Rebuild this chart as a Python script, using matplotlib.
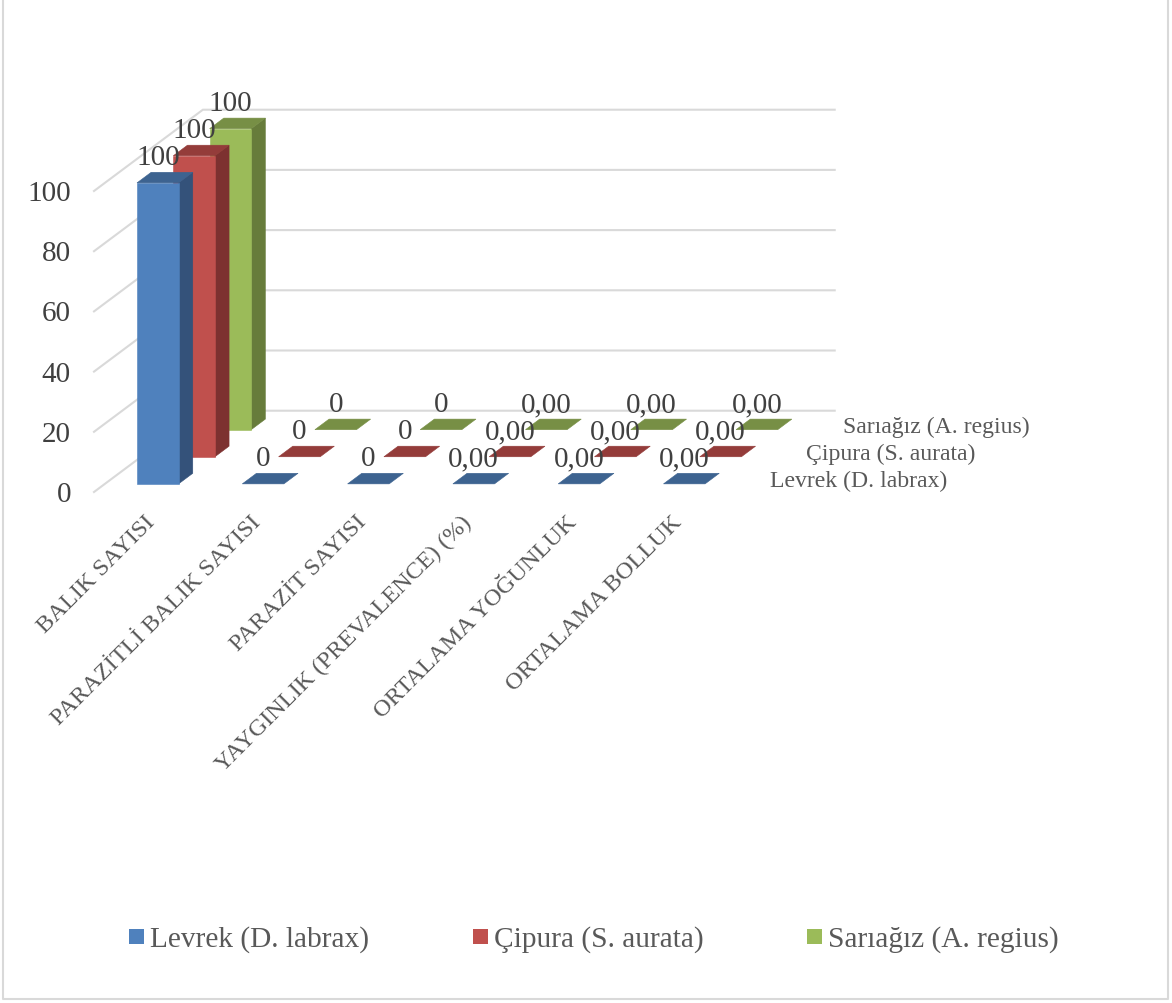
import matplotlib
matplotlib.use("Agg")
import matplotlib.pyplot as plt
from matplotlib.patches import Polygon, Rectangle

plt.rcParams["font.family"] = ["Liberation Serif", "DejaVu Serif"]

categories = [
    "BALIK SAYISI",
    "PARAZİTLİ BALIK SAYISI",
    "PARAZİT SAYISI",
    "YAYGINLIK (PREVALENCE) (%)",
    "ORTALAMA YOĞUNLUK",
    "ORTALAMA BOLLUK",
]
series_names = ["Levrek (D. labrax)", "Çipura (S. aurata)", "Sarıağız (A. regius)"]
levrek = [100, 0, 0, 0.00, 0.00, 0.00]
cipura = [100, 0, 0, 0.00, 0.00, 0.00]
sariagiz = [100, 0, 0, 0.00, 0.00, 0.00]
value_labels = ["100", "0", "0", "0,00", "0,00", "0,00"]
y_ticks = [0, 20, 40, 60, 80, 100]

front_colors = ["#4F81BD", "#C0504D", "#9BBB59"]
side_colors = ["#34527A", "#7D3130", "#677C3B"]
top_colors = ["#3D6390", "#943C3A", "#778F45"]
GRID = "#D9D9D9"
TEXT_DARK = "#404040"
TEXT_LEGEND = "#595959"

# oblique projection of the Excel 3D chart, result is in image pixels
X0, Y0 = 94.0, 493.0
CAT_W = 105.3
DEPTH_X, DEPTH_Y = 36.3, 27.1
UNIT_Y = 3.01
BAR_IN = 0.305   # bar start inside a category slot
BAR_W = 0.395    # bar width, fraction of a slot
BAR_D0 = 0.3     # bar start inside a depth slot
BAR_D = 0.39     # bar depth, fraction of a slot


def project(cat, val, depth):
    return (X0 + cat * CAT_W + depth * DEPTH_X, Y0 - val * UNIT_Y - depth * DEPTH_Y)


def draw_bar(ax, cat, val, s):
    c0, c1 = cat + BAR_IN, cat + BAR_IN + BAR_W
    d0, d1 = s + BAR_D0, s + BAR_D0 + BAR_D
    kw = dict(lw=0.4, zorder=5 - s)
    if val > 0:
        ax.add_patch(Polygon([project(c1, 0, d0), project(c1, 0, d1), project(c1, val, d1), project(c1, val, d0)],
                             fc=side_colors[s], ec=side_colors[s], **kw))
        ax.add_patch(Polygon([project(c0, 0, d0), project(c1, 0, d0), project(c1, val, d0), project(c0, val, d0)],
                             fc=front_colors[s], ec=front_colors[s], **kw))
    ax.add_patch(Polygon([project(c0, val, d0), project(c1, val, d0), project(c1, val, d1), project(c0, val, d1)],
                         fc=top_colors[s], ec=top_colors[s], **kw))


fig = plt.figure(figsize=(11.72, 10.04), dpi=100, facecolor="white")
ax = fig.add_axes([0, 0, 1, 1])
ax.set_xlim(0, 1172)
ax.set_ylim(1004, 0)
ax.axis("off")

# chart frame
ax.plot([3, 3, 1168, 1168], [0, 1000, 1000, 0], color=GRID, lw=1.5, zorder=1)

# gridlines on the side and back walls
for t in y_ticks:
    xs, ys = zip(project(0, t, 0), project(0, t, 3), project(6, t, 3))
    ax.plot(xs, ys, color=GRID, lw=1.5, zorder=1, solid_joinstyle="miter")
    x, y = project(0, t, 0)
    ax.text(x - 23, y + 2, str(t), ha="right", va="center", fontsize=21, color=TEXT_DARK, zorder=10)

all_series = [levrek, cipura, sariagiz]
for s in [2, 1, 0]:
    for i, v in enumerate(all_series[s]):
        draw_bar(ax, i, v, s)

for s, vals in enumerate(all_series):
    for i, v in enumerate(vals):
        x, _ = project(i + BAR_IN + BAR_W / 2, v, s + BAR_D0)
        _, y = project(i + BAR_IN + BAR_W / 2, v, s + BAR_D0 + BAR_D)
        ax.text(x, y - 15, value_labels[i], ha="center", va="center", fontsize=21, color=TEXT_DARK, zorder=10)
    # series names along the depth axis
    x, y = project(6, 0, s + 0.5)
    ax.text(x + 26, y + 2, series_names[s], ha="left", va="center", fontsize=17.1, color=TEXT_LEGEND, zorder=10)

# category labels
for i, name in enumerate(categories):
    x, y = project(i + 0.5, 0, 0)
    ax.text(x - 2, y + 19, name, ha="right", va="top", rotation=45, rotation_mode="anchor",
            fontsize=17.6, color=TEXT_LEGEND, zorder=10)

# legend
legend_x = [129, 473, 807]
for lx, name, col in zip(legend_x, series_names, front_colors):
    ax.add_patch(Rectangle((lx, 930), 15, 15, fc=col, ec="none"))
    ax.text(lx + 21, 940, name, ha="left", va="center", fontsize=21.2, color=TEXT_LEGEND)

fig.savefig("out.png", dpi=100)
